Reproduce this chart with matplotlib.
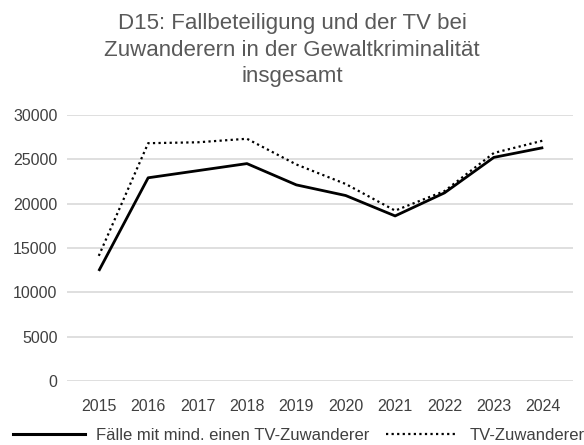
import matplotlib.pyplot as plt
from matplotlib.lines import Line2D

plt.rcParams['font.family'] = ['Liberation Sans', 'DejaVu Sans']

# Daten
jahre = ['2015', '2016', '2017', '2018', '2019', '2020', '2021', '2022', '2023', '2024']
faelle = [12400, 22900, 23700, 24500, 22100, 20900, 18600, 21200, 25200, 26300]
tv_zuwanderer = [14100, 26800, 26900, 27300, 24400, 22200, 19200, 21400, 25700, 27100]
y_ticks = [0, 5000, 10000, 15000, 20000, 25000, 30000]

punktiert = (0, (1, 1.5))

fig = plt.figure(figsize=(5.84, 4.45), dpi=100)
ax = fig.add_axes([0.115, 0.144, 0.866, 0.598])

x = list(range(len(jahre)))
ax.plot(x, faelle, color='black', lw=2.0, solid_capstyle='butt')
ax.plot(x, tv_zuwanderer, color='black', lw=1.6, linestyle=punktiert)

ax.set_xlim(-0.64, len(jahre) - 0.4)
ax.set_ylim(0, 30000)
ax.set_yticks(y_ticks)
ax.set_yticklabels([str(v) for v in y_ticks])
ax.set_xticks(x)
ax.set_xticklabels(jahre)
ax.grid(axis='y', color='#d9d9d9', lw=1.2)
ax.set_axisbelow(True)
for s in ax.spines.values():
    s.set_visible(False)
ax.tick_params(length=0, labelsize=11.5, colors='#404040')
ax.tick_params(axis='y', pad=7)
ax.tick_params(axis='x', pad=13)

fig.text(0.5, 0.97, 'D15: Fallbeteiligung und der TV bei\nZuwanderern in der Gewaltkriminalität\ninsgesamt',
         ha='center', va='top', fontsize=16, color='#595959', linespacing=1.34)

handles = [Line2D([], [], color='black', lw=2.2),
           Line2D([], [], color='black', lw=1.6, linestyle=punktiert)]
fig.legend(handles, ['Fälle mit mind. einen TV-Zuwanderer', 'TV-Zuwanderer'],
           loc='center left', bbox_to_anchor=(0.022, 0.022), ncol=2, frameon=False,
           fontsize=12, handlelength=4.3, handletextpad=0.7, columnspacing=1.0,
           labelcolor='#404040', borderaxespad=0, borderpad=0)

fig.savefig('out.png', dpi=100)
